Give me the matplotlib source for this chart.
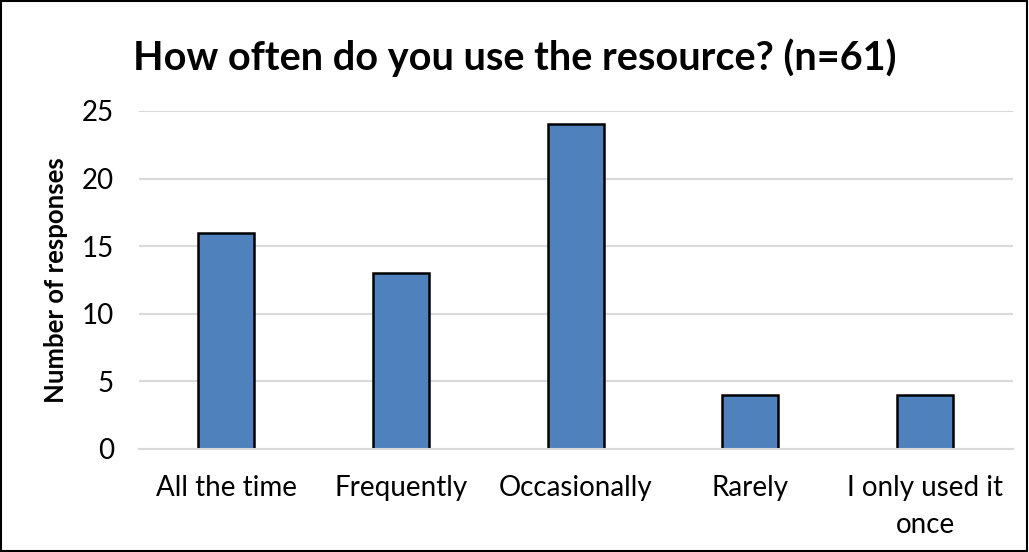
"""Bar chart: how often respondents use the resource."""
import matplotlib
matplotlib.use("Agg")
import matplotlib.pyplot as plt
from matplotlib.patches import Rectangle

categories = ["All the time", "Frequently", "Occasionally", "Rarely",
              "I only used it\nonce"]
responses = [16, 13, 24, 4, 4]
y_ticks = [0, 5, 10, 15, 20, 25]

plt.rcParams["font.family"] = ["Lato", "DejaVu Sans"]

fig = plt.figure(figsize=(10.29, 5.52), dpi=100)
ax = fig.add_axes([0.135, 0.187, 0.849, 0.612])

x = range(len(categories))
ax.bar(x, responses, width=0.32, color="#4F81BD", edgecolor="black",
       linewidth=1.8, zorder=2)

ax.set_xlim(-0.5, len(categories) - 0.5)
ax.set_ylim(0, 25)
ax.set_yticks(y_ticks)
ax.set_xticks(list(x))
ax.set_xticklabels(categories, fontsize=20, linespacing=1.5)
ax.tick_params(axis="y", labelsize=20, length=0, pad=18)
ax.tick_params(axis="x", length=0, pad=19)
ax.grid(axis="y", color="#D9D9D9", linewidth=1.5, zorder=0)
for side in ["top", "right", "left"]:
    ax.spines[side].set_visible(False)
ax.spines["bottom"].set_color("#D9D9D9")
ax.spines["bottom"].set_linewidth(1.5)
ax.spines["bottom"].set_zorder(3)

ax.set_ylabel("Number of responses", fontsize=18.5, fontweight="bold",
              labelpad=10)
fig.text(0.5, 0.895, "How often do you use the resource? (n=61)",
         ha="center", va="center", fontsize=28.5, fontweight="bold")

fig.patches.append(Rectangle((0.001, 0.002), 0.997, 0.996,
                             transform=fig.transFigure, fill=False,
                             edgecolor="black", linewidth=1.5))

fig.savefig("out.png", dpi=100)
plt.close(fig)
